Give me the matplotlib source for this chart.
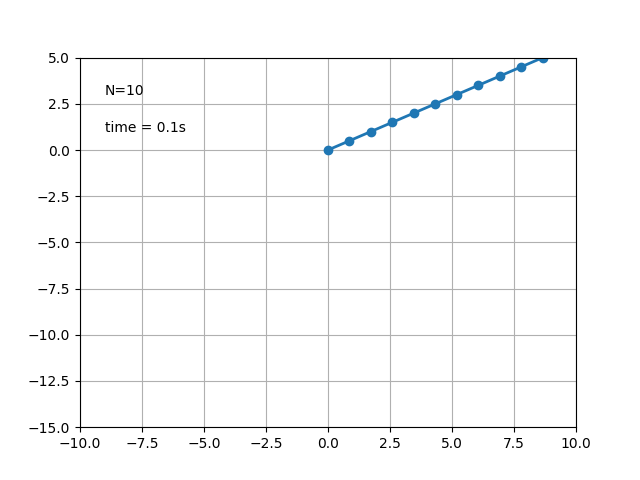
import matplotlib
matplotlib.use('Agg')
import matplotlib.pyplot as plt

# chain node positions (N=10 links, t = 0.1s)
xs = [0.0, 0.866, 1.732, 2.598, 3.464, 4.330, 5.196, 6.062, 6.928, 7.794, 8.660]
ys = [0.0, 0.5, 1.0, 1.5, 2.0, 2.5, 3.0, 3.5, 4.0, 4.5, 5.0]
n_links = 10
t = 0.1

fig, ax = plt.subplots(figsize=(6.4, 4.8), dpi=100)
ax.plot(xs, ys, 'o-', lw=2)
ax.set_xlim(-10, 10)
ax.set_ylim(-15, 5)
ax.grid()

ax.text(0.05, 0.9, 'N=%d' % n_links, transform=ax.transAxes)
ax.text(0.05, 0.8, 'time = %.1fs' % t, transform=ax.transAxes)

plt.savefig('out.png')
